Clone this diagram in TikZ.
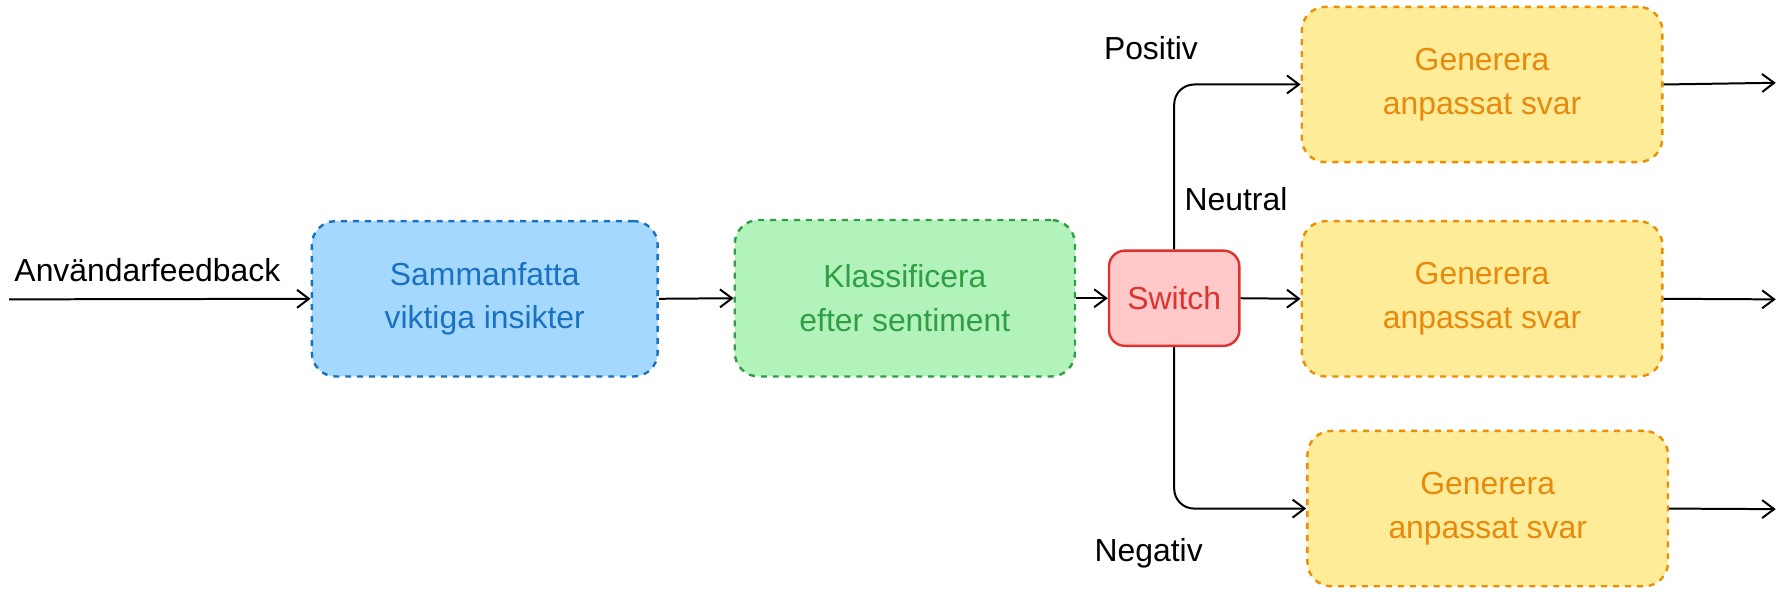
\documentclass[tikz,border=0pt]{standalone}
\usepackage{fontspec}
\setmainfont{Liberation Sans}
\usetikzlibrary{arrows.meta}
\definecolor{bF}{HTML}{A5D8FF}\definecolor{bD}{HTML}{1971C2}
\definecolor{gF}{HTML}{B2F2BB}\definecolor{gD}{HTML}{2F9E44}
\definecolor{rF}{HTML}{FFC9C9}\definecolor{rD}{HTML}{E03131}
\definecolor{yF}{HTML}{FFEC99}\definecolor{yD}{HTML}{F08C00}\definecolor{yT}{HTML}{E8890C}
\begin{document}
\begin{tikzpicture}[x=0.02cm,y=-0.02cm,
  box/.style={draw,dashed,line width=1.2pt,rounded corners=12pt,inner sep=0pt,align=center,font=\fontsize{16}{22}\selectfont},
  arr/.style={-{Straight Barb[length=6pt,width=9pt]},line width=1pt},
  lbl/.style={font=\fontsize{16}{20}\selectfont}]
\useasboundingbox (0,0) rectangle (1568,522);
\node[box,fill=bF,draw=bD,text=bD,minimum width=305*0.02cm,minimum height=137*0.02cm] (s) at (427.5,263.5) {Sammanfatta\\viktiga insikter};
\node[box,fill=gF,draw=gD,text=gD,minimum width=300*0.02cm,minimum height=138*0.02cm] (k) at (798,263) {Klassificera\\efter sentiment};
\node[box,solid,fill=rF,draw=rD,text=rD,minimum width=115*0.02cm,minimum height=84*0.02cm,rounded corners=8pt] (w) at (1035.5,263) {Switch};
\node[box,fill=yF,draw=yD,text=yT,minimum width=318*0.02cm,minimum height=137*0.02cm] (y1) at (1307,74.5) {Generera\\anpassat svar};
\node[box,fill=yF,draw=yD,text=yT,minimum width=318*0.02cm,minimum height=137*0.02cm] (y2) at (1307,263.5) {Generera\\anpassat svar};
\node[box,fill=yF,draw=yD,text=yT,minimum width=318*0.02cm,minimum height=137*0.02cm] (y3) at (1312,448.5) {Generera\\anpassat svar};
\coordinate (in) at (8,264);
\coordinate (o1) at (1566,73);\coordinate (o2) at (1566,264);\coordinate (o3) at (1566,449);
\node[lbl] (t0) at (130,238) {Användarfeedback};
\node[lbl] (tp) at (1015,42) {Positiv};
\node[lbl] (tn) at (1090,176) {Neutral};
\node[lbl] (tg) at (1013,488) {Negativ};
\draw[arr] (in) -- (s.west);
\draw[arr] (s.east) -- (k.west);
\draw[arr] (k.east) -- (w.west);
\draw[arr] (w.east) -- (y2.west);
\draw[arr,rounded corners=10pt] (w.north) |- (y1.west);
\draw[arr,rounded corners=10pt] (w.south) |- (y3.west);
\draw[arr] (y1.east) -- (o1);
\draw[arr] (y2.east) -- (o2);
\draw[arr] (y3.east) -- (o3);
\end{tikzpicture}
\end{document}
